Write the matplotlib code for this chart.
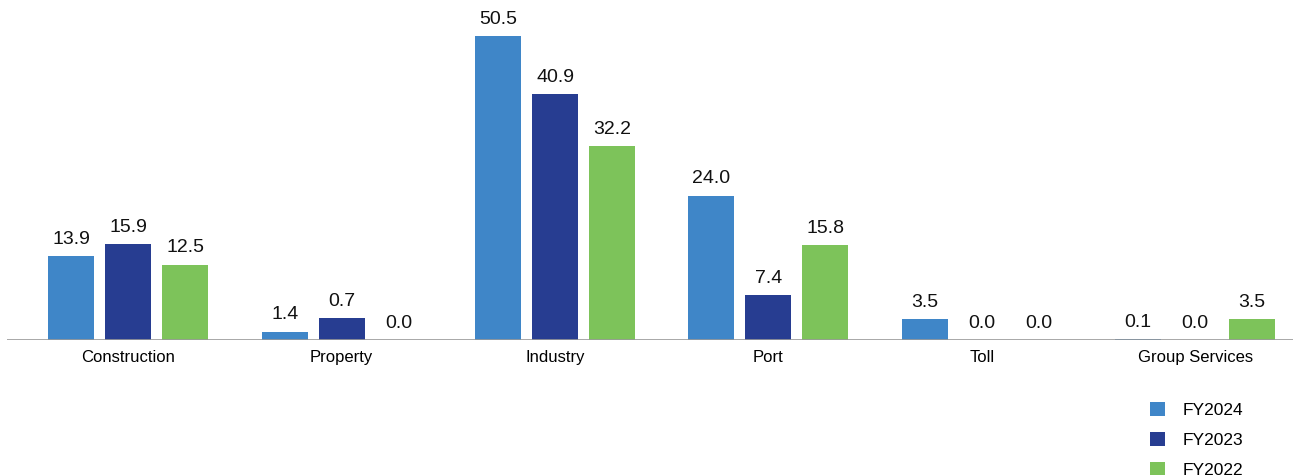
import matplotlib.pyplot as plt
import numpy as np

categories = ["Construction", "Property", "Industry", "Port", "Toll", "Group Services"]
fy2024 = [13.9, 1.4, 50.5, 24.0, 3.5, 0.1]
fy2023 = [15.9, 0.7, 40.9, 7.4, 0.0, 0.0]
fy2022 = [12.5, 0.0, 32.2, 15.8, 0.0, 3.5]
# bar heights as drawn in the source (Property FY2023 bar is drawn taller than its label)
fy2023_bars = [15.9, 3.6, 40.9, 7.4, 0.0, 0.0]

series = [("FY2024", fy2024, fy2024, "#3f86c8"),
          ("FY2023", fy2023_bars, fy2023, "#273d91"),
          ("FY2022", fy2022, fy2022, "#7dc35a")]

plt.rcParams['font.family'] = ['Liberation Sans', 'DejaVu Sans']

fig = plt.figure(figsize=(12.93, 4.75), dpi=100)
ax = fig.add_axes([7 / 1293, 135 / 475, 1286 / 1293, 340 / 475])

x = np.arange(len(categories))
width = 0.2156
step = 0.267

for i, (name, heights, labels, color) in enumerate(series):
    pos = x + (i - 1) * step
    bars = ax.bar(pos, heights, width, color=color, label=name)
    for b, h, v in zip(bars, heights, labels):
        ax.annotate(f"{v:.1f}", (b.get_x() + b.get_width() / 2, h),
                    xytext=(0, 6), textcoords="offset points",
                    ha="center", va="bottom", fontsize=14, color="#111111")

ax.set_xlim(-0.568, 5.458)
ax.set_ylim(0, 56.5)
ax.axhline(0, color="#999999", linewidth=1.2)

for s in ax.spines.values():
    s.set_visible(False)
ax.set_yticks([])
ax.set_xticks(x)
ax.set_xticklabels(categories, fontsize=12)
ax.tick_params(axis="x", length=0, pad=7)

fig.legend(loc="upper left", bbox_to_anchor=(1141 / 1293, 1 - 393 / 475),
           frameon=False, fontsize=12.5, handlelength=0.9, handleheight=0.9,
           handletextpad=1.0, labelspacing=0.8, borderpad=0)

plt.savefig("out.png", dpi=100)
